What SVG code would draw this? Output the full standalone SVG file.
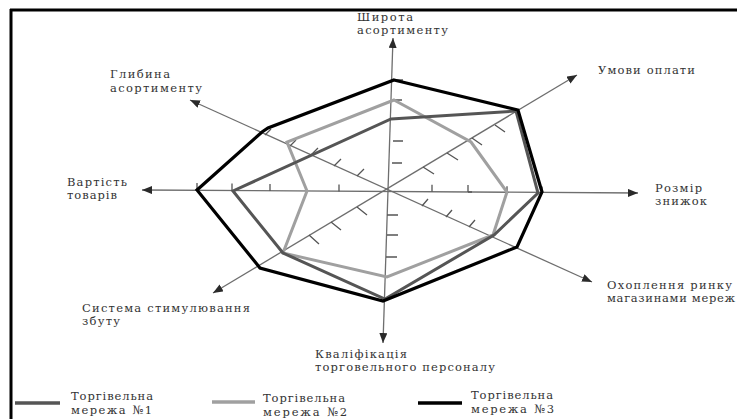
<svg xmlns="http://www.w3.org/2000/svg" width="737" height="419" viewBox="0 0 737 419">
<style>
.bg{fill:#ffffff}
.frame{stroke:#000;stroke-width:3;fill:none}
.axis{stroke:#6e6e6e;stroke-width:1.3;fill:none}
.tick{stroke:#555;stroke-width:1.3;fill:none}
.s1{stroke:#555555;stroke-width:3;fill:none;stroke-linejoin:miter}
.s2{stroke:#a0a0a0;stroke-width:3;fill:none;stroke-linejoin:miter}
.s3{stroke:#000000;stroke-width:3.2;fill:none;stroke-linejoin:miter}
text{font-family:"DejaVu Serif","Liberation Serif",serif;font-size:11.5px;fill:#333333}
</style>
<defs>
<marker id="arr" viewBox="0 0 10 8" refX="10" refY="4" markerWidth="10" markerHeight="8" markerUnits="userSpaceOnUse" orient="auto-start-reverse">
<path d="M0,0 L10,4 L0,8 z" fill="#2a2a2a"/>
</marker>
</defs>
<rect class="bg" x="0" y="0" width="737" height="419"/>
<g id="frame">
<line class="frame" x1="10" y1="10" x2="737" y2="10"/>
<line class="frame" x1="11" y1="9" x2="11" y2="419"/>
</g>
<g id="connectors">
<line class="axis" x1="383" y1="343" x2="393" y2="38" marker-start="url(#arr)" marker-end="url(#arr)"/>
<line class="axis" x1="142" y1="190" x2="638" y2="193" marker-start="url(#arr)" marker-end="url(#arr)"/>
<line class="axis" x1="190" y1="100" x2="592" y2="282" marker-start="url(#arr)" marker-end="url(#arr)"/>
<line class="axis" x1="213" y1="293" x2="577" y2="75" marker-start="url(#arr)" marker-end="url(#arr)"/>
</g>
<g id="ticks">
<path class="tick" d="M392,163 h10 M393,141 h10 M393,100 h9 M394,80 h9 M387,215 h11 M387,235 h11 M386,257 h11"/>
<path class="tick" d="M197,190 v-7 M232,190.5 v-7 M270,191 v-7 M339,191.5 v-7 M432,191.8 v-7 M468,192 v-7 M468,192 h4 M507,192.3 v-6 M542,192.5 v-6"/>
<path class="tick" d="M357,176 l7,-7 M334,166 l7,-7 M311,155 l7,-7 M290,146 l6,-6 M265,135 l6,-6 M422,206 l6,-7 M446,217 l6,-7 M469,227 l6,-7"/>
<path class="tick" d="M423,167 l11,7 M447,153 l11,7 M472,138 l10,7 M495,125 l10,7 M357,207 l10,8 M331,222 l10,8 M309,235 l10,9"/>
</g>
<g id="series2">
<polygon class="s2" points="394,100 471,142 507,192 493,235 387,277 283,253 307,191 287,142"/>
</g>
<g id="series1">
<polygon class="s1" points="391,119 516,111 538,193 494,235 385,299 283,253 233,191"/>
</g>
<g id="series3">
<polygon class="s3" points="394,80 518,110 542,192 517,247 383,301 260,268 197,190 262,132 268,128"/>
</g>
<g id="label-shyrota">
<text x="357" y="21" textLength="56" lengthAdjust="spacing">Широта</text>
<text x="357" y="34" textLength="91" lengthAdjust="spacing">асортименту</text>
</g>
<g id="label-umovy">
<text x="598" y="74" textLength="97" lengthAdjust="spacing">Умови оплати</text>
</g>
<g id="label-rozmir">
<text x="655" y="192" textLength="47" lengthAdjust="spacing">Розмір</text>
<text x="655" y="205" textLength="52" lengthAdjust="spacing">знижок</text>
</g>
<g id="label-okhoplennia">
<text x="607" y="289" textLength="125" lengthAdjust="spacing">Охоплення ринку</text>
<text x="607" y="302" textLength="128" lengthAdjust="spacing">магазинами мереж</text>
</g>
<g id="label-kvalifikatsiia">
<text x="315" y="358" textLength="92" lengthAdjust="spacing">Кваліфікація</text>
<text x="315" y="371" textLength="180" lengthAdjust="spacing">торговельного персоналу</text>
</g>
<g id="label-systema">
<text x="82" y="312" textLength="168" lengthAdjust="spacing">Система стимулювання</text>
<text x="82" y="325" textLength="38" lengthAdjust="spacing">збуту</text>
</g>
<g id="label-hlybyna">
<text x="110" y="78" textLength="60" lengthAdjust="spacing">Глибина</text>
<text x="110" y="92" textLength="92" lengthAdjust="spacing">асортименту</text>
</g>
<g id="label-vartist">
<text x="67" y="186" textLength="60" lengthAdjust="spacing">Вартість</text>
<text x="67" y="199" textLength="50" lengthAdjust="spacing">товарів</text>
</g>
<g id="legend1">
<line x1="15" y1="403" x2="60" y2="403" stroke="#555555" stroke-width="3.5"/>
<text x="71" y="400" textLength="82" lengthAdjust="spacing">Торгівельна</text>
<text x="71" y="414" textLength="81" lengthAdjust="spacing">мережа №1</text>
</g>
<g id="legend2">
<line x1="212" y1="402" x2="255" y2="402" stroke="#a0a0a0" stroke-width="3.5"/>
<text x="263" y="402" textLength="82" lengthAdjust="spacing">Торгівельна</text>
<text x="263" y="416" textLength="84" lengthAdjust="spacing">мережа №2</text>
</g>
<g id="legend3">
<line x1="418" y1="403" x2="462" y2="403" stroke="#000000" stroke-width="3.5"/>
<text x="471" y="399" textLength="82" lengthAdjust="spacing">Торгівельна</text>
<text x="471" y="413" textLength="83" lengthAdjust="spacing">мережа №3</text>
</g>
</svg>
